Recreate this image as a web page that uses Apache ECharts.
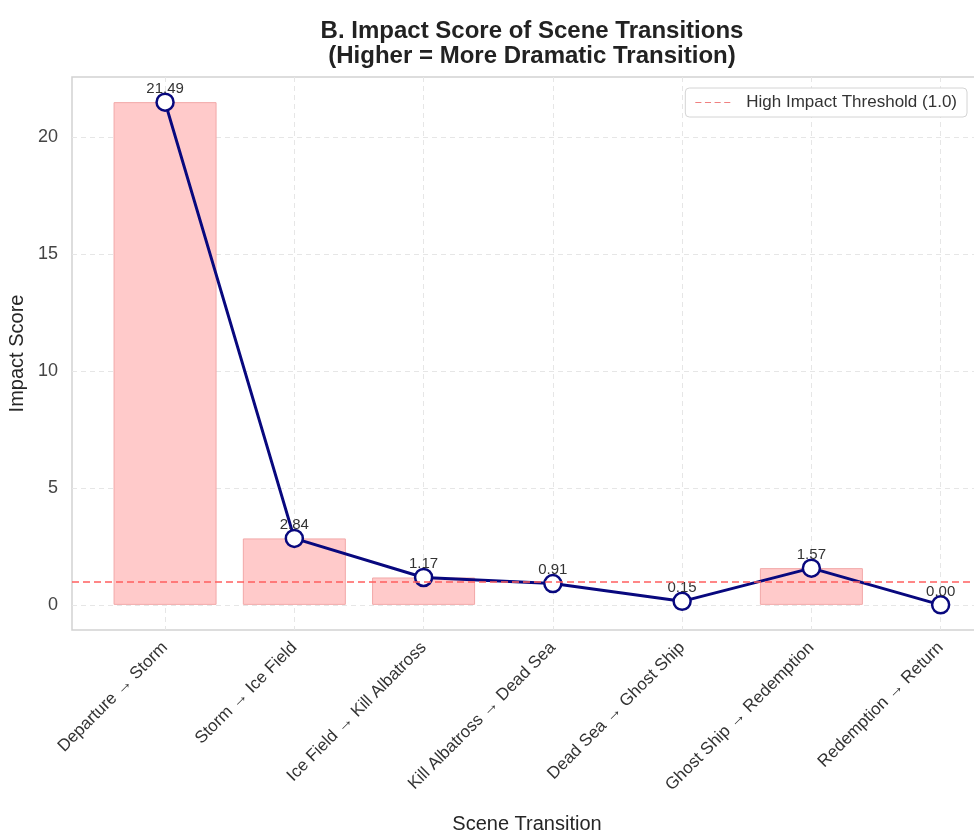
<!DOCTYPE html>
<html>
<head>
<meta charset="utf-8">
<script src="https://cdn.jsdelivr.net/npm/echarts@6/dist/echarts.min.js"></script>
<style>
  html, body { margin: 0; padding: 0; background: #fff; }
  #chart { width: 974px; height: 833px; }
</style>
</head>
<body>
<div id="chart"></div>
<script>
var transitions = [
  'Departure → Storm',
  'Storm → Ice Field',
  'Ice Field → Kill Albatross',
  'Kill Albatross → Dead Sea',
  'Dead Sea → Ghost Ship',
  'Ghost Ship → Redemption',
  'Redemption → Return'
];
var impactScores = [21.49, 2.84, 1.17, 0.91, 0.15, 1.57, 0.00];
var threshold = 1.0;
var yTicks = [0, 5, 10, 15, 20];
var xTicks = transitions.map(function (t, i) { return i; });

var lineData = impactScores.map(function (v, i) { return [i, v]; });
// bars only where the score is above the threshold
var barData = impactScores.map(function (v, i) { return [i, v > threshold ? v : '-']; });

var chart = echarts.init(document.getElementById('chart'));
var gridStyle = { color: '#e6e6e6', type: [5, 4], width: 1 };
var font = 'Liberation Sans';

var option = {
  animation: false,
  title: {
    text: 'B. Impact Score of Scene Transitions\n(Higher = More Dramatic Transition)',
    left: 527,
    top: 14,
    textAlign: 'center',
    textStyle: {
      fontFamily: font,
      fontSize: 24,
      fontWeight: 'bold',
      color: '#222',
      lineHeight: 25
    }
  },
  legend: {
    data: [{
      name: 'High Impact Threshold (1.0)',
      icon: 'path://M0,0h6v1h-6z M9.5,0h6v1h-6z M19,0h6v1h-6z M28.5,0h6v1h-6z'
    }],
    right: 7,
    top: 88,
    itemWidth: 35,
    itemHeight: 2.5,
    padding: [6, 10],
    backgroundColor: '#fff',
    borderColor: '#d4d4d4',
    borderWidth: 1,
    borderRadius: 4,
    textStyle: { fontFamily: font, fontSize: 17, color: '#333', padding: [0, 0, 0, 11] }
  },
  grid: {
    left: 72,
    width: 910,
    top: 77,
    bottom: 203,
    outerBoundsMode: 'none',
    show: true,
    borderColor: '#d2d2d2',
    borderWidth: 1.5
  },
  xAxis: {
    type: 'value',
    min: -0.72,
    max: 6.32,
    name: 'Scene Transition',
    nameLocation: 'middle',
    nameGap: 184,
    nameTextStyle: { fontFamily: font, fontSize: 20, color: '#262626' },
    axisLine: { show: false },
    axisTick: { show: false, customValues: xTicks },
    axisLabel: {
      customValues: xTicks,
      rotate: 45,
      margin: 15,
      fontFamily: font,
      fontSize: 17,
      color: '#333',
      formatter: function (v) { return transitions[Math.round(v)]; }
    },
    splitLine: { show: true, lineStyle: gridStyle }
  },
  yAxis: {
    type: 'value',
    min: -1.0745,
    max: 22.5645,
    name: 'Impact Score',
    nameLocation: 'middle',
    nameGap: 39,
    nameTextStyle: { fontFamily: font, fontSize: 20, color: '#262626' },
    axisLine: { show: false },
    axisTick: { show: false, customValues: yTicks },
    axisLabel: {
      customValues: yTicks,
      margin: 14,
      fontFamily: font,
      fontSize: 18,
      color: '#444'
    },
    splitLine: { show: true, lineStyle: gridStyle }
  },
  series: [
    {
      name: 'Impact',
      type: 'bar',
      data: barData,
      barWidth: 103,
      clip: false,
      itemStyle: { color: '#ffcaca', borderColor: '#f2a8a8', borderWidth: 1 },
      z: 2
    },
    {
      name: 'High Impact Threshold (1.0)',
      type: 'line',
      data: [],
      symbol: 'none',
      lineStyle: { color: '#f08080', type: [6, 4], width: 1.5 },
      itemStyle: { color: '#f08080' },
      markLine: {
        silent: true,
        symbol: 'none',
        label: { show: false },
        lineStyle: { color: '#ff5f5f', type: [7, 4], width: 1.5 },
        data: [{ yAxis: threshold }]
      },
      z: 3
    },
    {
      name: 'Score',
      type: 'line',
      data: lineData,
      symbol: 'circle',
      symbolSize: 17,
      lineStyle: { color: '#08087e', width: 3 },
      itemStyle: { color: '#fff', borderColor: '#08087e', borderWidth: 2.5 },
      label: {
        show: true,
        position: 'top',
        distance: -4,
        fontFamily: font,
        fontSize: 15,
        color: '#333',
        formatter: function (p) { return p.value[1].toFixed(2); }
      },
      z: 4
    }
  ]
};
chart.setOption(option);
</script>
</body>
</html>
